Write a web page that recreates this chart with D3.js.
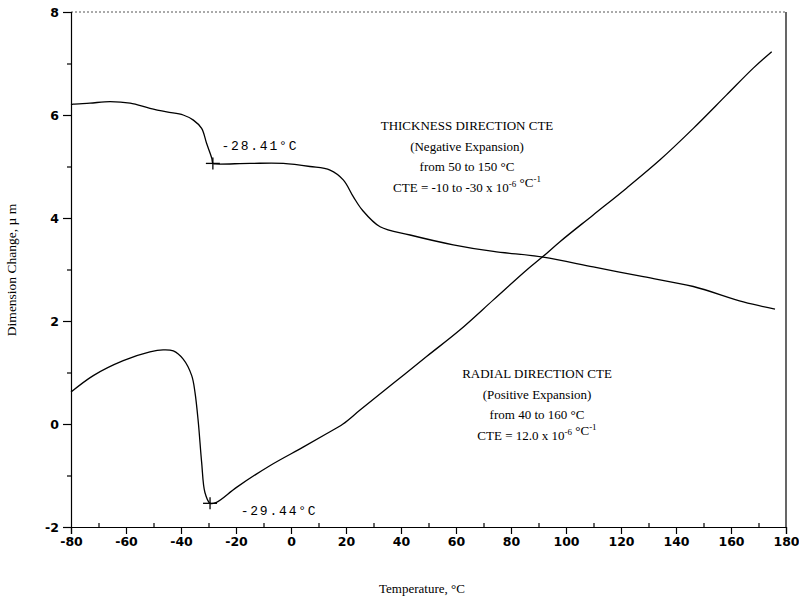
<!DOCTYPE html>
<head>
  <meta charset="utf-8">
  <script src="https://d3js.org/d3.v7.min.js"></script>
  <style>
    body {
      margin: 0;
      background: white;
    }

    path.curve {
      fill: none;
      stroke: black;
      stroke-width: 1.3;
    }

    .axis text {
      font-family: "DejaVu Sans", sans-serif;
      font-size: 12.5px;
      font-weight: bold;
      fill: black;
    }

    .axis line, .axis path {
      stroke: black;
      stroke-width: 1.2;
    }

    text.note {
      font-family: "Liberation Serif", "Times New Roman", serif;
      font-size: 13px;
      fill: black;
    }

    text.mono {
      font-family: "Liberation Mono", "DejaVu Sans Mono", monospace;
      font-size: 13px;
      letter-spacing: 1.8px;
      fill: black;
    }
  </style>
</head>

<body>
  <script>
const W = 799;
const H = 600;

// data: temperature (°C) / dimension change (µm)
const thickTemp = [-80, -79.2, -73.1, -65.8, -58.5, -51.3, -45.2, -39.2, -35.5, -32.5, -30.7, -28.8, -28.41,
  -27.6, -14.9, -2.8, 6.9, 14.2, 19.0, 22.7, 26.0, 32.4, 43.3, 59.0, 73.6, 91.7, 109.9, 128.1, 146.3, 164.5, 176.0];
const thickVal = [6.20, 6.21, 6.23, 6.26, 6.23, 6.13, 6.06, 6.00, 5.90, 5.74, 5.45, 5.16, 5.06,
  5.05, 5.06, 5.06, 5.00, 4.93, 4.74, 4.41, 4.15, 3.83, 3.67, 3.48, 3.35, 3.24, 3.05, 2.86, 2.67, 2.37, 2.23];

const radialTemp = [-80, -71.9, -61, -51.3, -46.5, -42.8, -39.2, -36.1, -34.9, -33.7, -32.5, -31.3, -29.44,
  -27.1, -19.8, -7.7, 4.4, 12.9, 18.9, 25.1, 37.2, 49.3, 61.5, 73.6, 85.7, 91.8, 97.8, 109.9, 122.0, 134.2,
  146.3, 158.4, 168.1, 174.8];
const radialVal = [0.62, 0.94, 1.23, 1.40, 1.44, 1.42, 1.26, 0.94, 0.61, 0.03, -0.74, -1.33, -1.54,
  -1.52, -1.23, -0.81, -0.45, -0.19, 0.00, 0.27, 0.79, 1.31, 1.83, 2.41, 2.99, 3.26, 3.54, 4.06, 4.58, 5.13,
  5.74, 6.39, 6.91, 7.23];

// transition markers
const markTemp = [-28.41, -29.44];
const markVal = [5.06, -1.54];
const markLabel = ["-28.41°C", "-29.44°C"];

const xTicks = [-80, -60, -40, -20, 0, 20, 40, 60, 80, 100, 120, 140, 160, 180];
const xMinor = [-70, -50, -30, -10, 10, 30, 50, 70, 90, 110, 130, 150, 170];
const yTicks = [-2, 0, 2, 4, 6, 8];
const yMinor = [-1, 1, 3, 5, 7];

var svg = d3.select("body").append("svg")
  .attr("width", W)
  .attr("height", H);

var x = d3.scaleLinear()
  .domain([-80, 180])
  .range([71, 786]);

var y = d3.scaleLinear()
  .domain([-2, 8])
  .range([527, 12]);

//frame (top dotted, right solid)
svg.append("line")
  .attr("x1", x(-80)).attr("x2", x(180))
  .attr("y1", y(8)).attr("y2", y(8))
  .attr("stroke", "#555")
  .attr("stroke-dasharray", "2,2");

svg.append("line")
  .attr("x1", x(180)).attr("x2", x(180))
  .attr("y1", y(8)).attr("y2", y(-2))
  .attr("stroke", "black")
  .attr("stroke-width", 1.2);

//axes
svg.append("g")
  .attr("class", "axis")
  .attr("transform", "translate(0," + y(-2) + ")")
  .call(d3.axisBottom(x).tickValues(xTicks).tickSize(7).tickPadding(3).tickFormat(d => String(d)));

svg.append("g")
  .attr("class", "axis")
  .attr("transform", "translate(0," + y(-2) + ")")
  .call(d3.axisBottom(x).tickValues(xMinor).tickSize(-4).tickFormat(""))
  .call(g => g.select(".domain").remove());

svg.append("g")
  .attr("class", "axis")
  .attr("transform", "translate(" + x(-80) + ",0)")
  .call(d3.axisLeft(y).tickValues(yTicks).tickSize(8).tickPadding(4).tickFormat(d => String(d)));

svg.append("g")
  .attr("class", "axis")
  .attr("transform", "translate(" + x(-80) + ",0)")
  .call(d3.axisLeft(y).tickValues(yMinor).tickSize(4).tickFormat(""))
  .call(g => g.select(".domain").remove());

//curves
var line = d3.line()
  .x(d => x(d[0]))
  .y(d => y(d[1]))
  .curve(d3.curveCatmullRom.alpha(0.5));

svg.append("path")
  .attr("class", "curve")
  .attr("d", line(d3.zip(thickTemp, thickVal)));

svg.append("path")
  .attr("class", "curve")
  .attr("d", line(d3.zip(radialTemp, radialVal)));

//crosses + labels
const labelOffset = [[47, -13], [69, 12]];
markTemp.forEach((t, i) => {
  let cx = x(t), cy = y(markVal[i]);
  svg.append("line")
    .attr("x1", cx - 7).attr("x2", cx + 7)
    .attr("y1", cy).attr("y2", cy)
    .attr("stroke", "black").attr("stroke-width", 1.3);
  svg.append("line")
    .attr("x1", cx).attr("x2", cx)
    .attr("y1", cy - 6).attr("y2", cy + 6)
    .attr("stroke", "black").attr("stroke-width", 1.3);
  svg.append("text")
    .attr("class", "mono")
    .attr("x", cx + labelOffset[i][0])
    .attr("y", cy + labelOffset[i][1])
    .attr("text-anchor", "middle")
    .text(markLabel[i]);
});

/**
 * text block with optional superscripts
 */
function block(cx, top, lines)
{
  lines.forEach((parts, i) => {
    let t = svg.append("text")
      .attr("class", "note")
      .attr("x", cx)
      .attr("y", top + i * 20.5)
      .attr("text-anchor", "middle");
    parts.forEach(p => {
      if (typeof p === "string") {
        t.append("tspan").text(p);
      } else {
        t.append("tspan")
          .attr("dy", -5)
          .attr("font-size", "9px")
          .text(p.sup);
        t.append("tspan").attr("dy", 5).text("");
      }
    });
  });
}

block(467, 130, [
  ["THICKNESS DIRECTION CTE"],
  ["(Negative Expansion)"],
  ["from 50 to 150 °C"],
  ["CTE = -10 to -30 x 10", {sup: "-6"}, " °C", {sup: "-1"}]
]);

block(537, 378, [
  ["RADIAL DIRECTION CTE"],
  ["(Positive Expansion)"],
  ["from 40 to 160 °C"],
  ["CTE = 12.0 x 10", {sup: "-6"}, " °C", {sup: "-1"}]
]);

//axis titles
svg.append("text")
  .attr("class", "note")
  .attr("x", 422)
  .attr("y", 593)
  .attr("text-anchor", "middle")
  .text("Temperature, °C");

svg.append("text")
  .attr("class", "note")
  .attr("transform", "translate(16,270) rotate(-90)")
  .attr("text-anchor", "middle")
  .style("font-size", "13.5px")
  .text("Dimension Change, µ m");
  </script>
</body>
